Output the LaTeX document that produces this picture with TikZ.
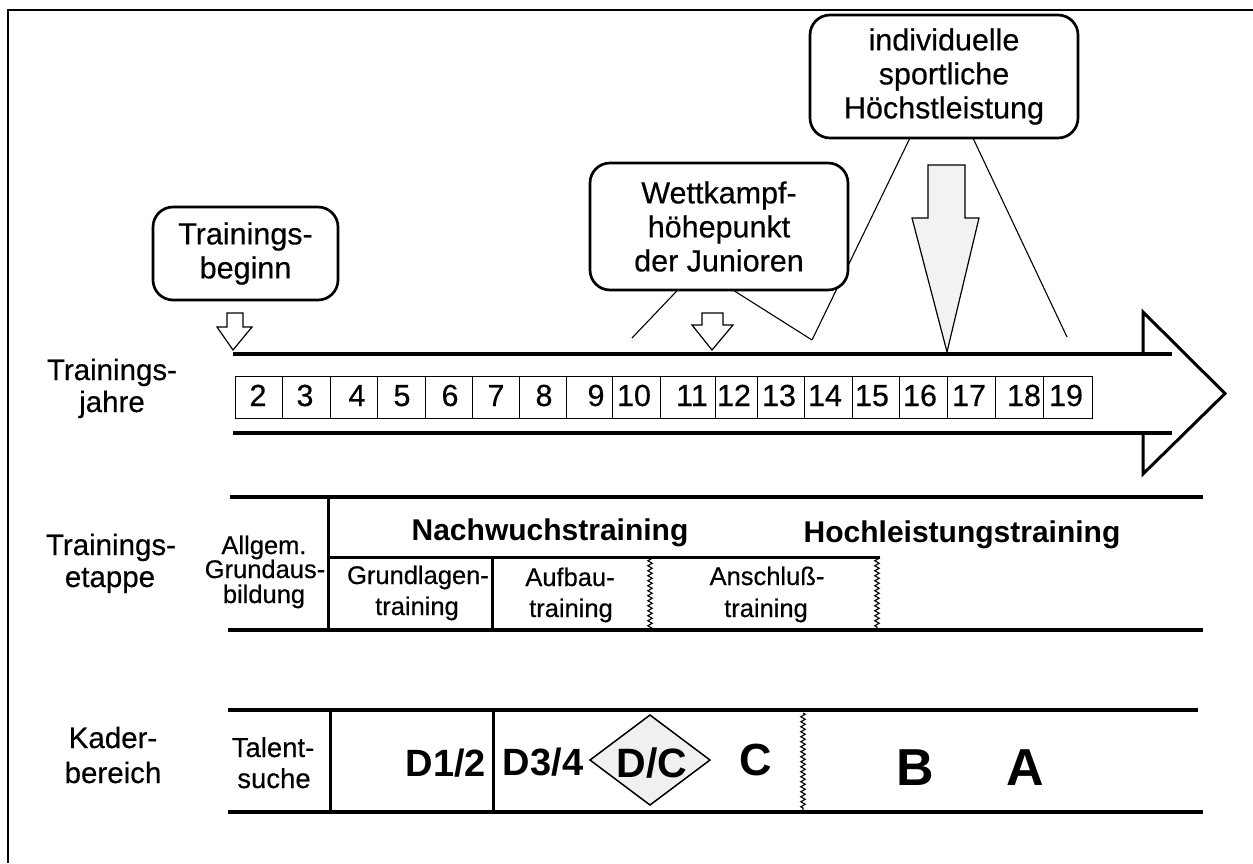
\documentclass[tikz,border=0pt]{standalone}
\usepackage{fontspec}
\setmainfont{Liberation Sans}[UprightFeatures={FakeBold=0.4}]
\usetikzlibrary{decorations.pathmorphing,shapes.geometric,calc}
\pgfdeclarelayer{bg}
\pgfsetlayers{bg,main}
\begin{document}
\begin{tikzpicture}[x=1pt,y=-1pt,
  every node/.style={inner sep=0pt, outer sep=0pt},
  callout/.style={draw, line width=2.7pt, rounded corners=20pt, fill=white, align=center, font=\fontsize{30.5}{34}\selectfont},
  lbl/.style={anchor=base, font=\fontsize{29.5}{29.5}\selectfont},
  tsmall/.style={anchor=base, font=\fontsize{25.5}{25.5}\selectfont},
  num/.style={anchor=base, font=\fontsize{30.5}{30.5}\selectfont},
  hdr/.style={anchor=base, font=\bfseries\fontsize{30}{30}\selectfont},
  kader/.style={anchor=base, font=\bfseries\fontsize{#1}{#1}\selectfont},
  mainrule/.style={line width=3.6pt},
  sepline/.style={line width=3pt},
  zz/.style={decorate, decoration={zigzag, amplitude=2.2pt, segment length=5pt}, line width=1.1pt},
  cellline/.style={line width=0.9pt},
  blockarrow/.style={line width=1.2pt, line join=miter, fill=white},
  callline/.style={line width=1.1pt},
  headline/.style={line width=3pt, line join=miter}
]
\useasboundingbox (0,0) rectangle (1253,863);
\begin{pgfonlayer}{bg}
\fill[white] (0,0) rectangle (1253,863);
\end{pgfonlayer}
% frame
\draw[line width=1.4pt] (8,863) -- (8,10) -- (1253,10);

% callouts
\node[callout, minimum width=185pt, minimum height=93pt] (tb) at (245.5,253.5) {Trainings-\\beginn};
\node[callout, minimum width=258pt, minimum height=127pt] (wk) at (719,226.5) {Wettkampf-\\höhepunkt\\der Junioren};
\node[callout, minimum width=268pt, minimum height=123pt] (hl) at (944,76.5) {individuelle\\sportliche\\Höchstleistung};

\coordinate (wl) at (632,338);
\coordinate (vv) at (812,340);
\coordinate (hr) at (1067,337);
\begin{pgfonlayer}{bg}
\draw[callline] ($(wk.south west)!0.34!(wk.south east)$) -- (wl);
\draw[callline] ($(wk.south west)!0.554!(wk.south east)$) -- (vv);
\draw[callline] ($(hl.south west)!0.373!(hl.south east)$) -- (vv);
\draw[callline] ($(hl.south west)!0.608!(hl.south east)$) -- (hr);
\end{pgfonlayer}

% small block arrows
\draw[blockarrow] (227,313) -- (243,313) -- (243,327) -- (252,327) -- (233,350) -- (217,327) -- (227,327) -- cycle;
\draw[blockarrow] (702,313) -- (723,313) -- (723,325) -- (733,325) -- (712,350) -- (692,325) -- (702,325) -- cycle;
\draw[blockarrow, fill=gray!10] (928,165) -- (965,165) -- (965,218) -- (979,218) -- (947,352) -- (912,218) -- (928,218) -- cycle;

% main arrow
\draw[mainrule] (233,354) -- (1172,354);
\draw[mainrule] (233,433) -- (1172,433);
\draw[headline] (1143,354) -- (1143,312) -- (1225,393.5) -- (1143,474) -- (1143,433);

% year cells
\foreach \a/\b/\t/\c in {235/282/2/258, 282/330/3/305, 330/377/4/357, 377/425/5/402, 425/472/6/450, 472/519/7/496, 519/566/8/544, 566/612/9/596, 612/660/10/634, 660/715/11/692, 715/757/12/734, 757/804/13/779, 804/852/14/825, 852/899/15/872, 899/947/16/920, 947/995/17/969, 995/1043/18/1024, 1043/1092/19/1066}{
  \draw[cellline] (\a,376) rectangle (\b,418);
  \node[num] (y\t) at (\c,406) {\t};
}

% side labels
\node[lbl] (l1a) at (112,380) {Trainings-};
\node[lbl] (l1b) at (112,412) {jahre};
\node[lbl] (l2a) at (111,555) {Trainings-};
\node[lbl] (l2b) at (110,587) {etappe};
\node[lbl] (l3a) at (113,748) {Kader-};
\node[lbl] (l3b) at (113,783) {bereich};

% Trainingsetappe table
\draw[mainrule] (230,497) -- (1203,497);
\draw[mainrule] (228,630) -- (1203,630);
\draw[sepline] (328,497) -- (328,630);
\draw[sepline] (328,557) -- (880,557);
\draw[sepline] (492,557) -- (492,630);
\draw[zz] (650,557) -- (650,630);
\draw[zz] (877,557) -- (877,628);

\node[tsmall] (ag1) at (264,554) {Allgem.};
\node[tsmall] (ag2) at (265,578) {Grundaus-};
\node[tsmall] (ag3) at (264,603) {bildung};
\node[hdr] (nw) at (550,540) {Nachwuchstraining};
\node[hdr] (hlt) at (962,542) {Hochleistungstraining};
\node[tsmall] (gl1) at (418,584) {Grundlagen-};
\node[tsmall] (gl2) at (417,615) {training};
\node[tsmall] (ab1) at (570,586) {Aufbau-};
\node[tsmall] (ab2) at (571,617) {training};
\node[tsmall] (an1) at (767,585) {Anschluß-};
\node[tsmall] (an2) at (766,617) {training};

% Kaderbereich table
\draw[mainrule] (228,710) -- (1198,710);
\draw[mainrule] (228,812) -- (1203,812);
\draw[sepline] (330,710) -- (330,812);
\draw[sepline] (493,710) -- (493,812);
\draw[zz] (803,713) -- (803,810);

\node[anchor=base, font=\fontsize{27.5}{27.5}\selectfont] (ts1) at (273,757) {Talent-};
\node[anchor=base, font=\fontsize{27.5}{27.5}\selectfont] (ts2) at (274,788) {suche};
\node[kader=38] (d12) at (446,776) {D1/2};
\node[kader=38] (d34) at (543,775) {D3/4};
\node[diamond, draw, line width=1.5pt, fill=gray!12, minimum width=120pt, minimum height=90pt, aspect=1.333] (dc) at (650,760) {};
\node[kader=41] (dct) at (652,777) {D/C};
\node[kader=45] (kc) at (756,775) {C};
\node[kader=52] (kb) at (915,785) {B};
\node[kader=52] (ka) at (1025,785) {A};
\end{tikzpicture}
\end{document}
